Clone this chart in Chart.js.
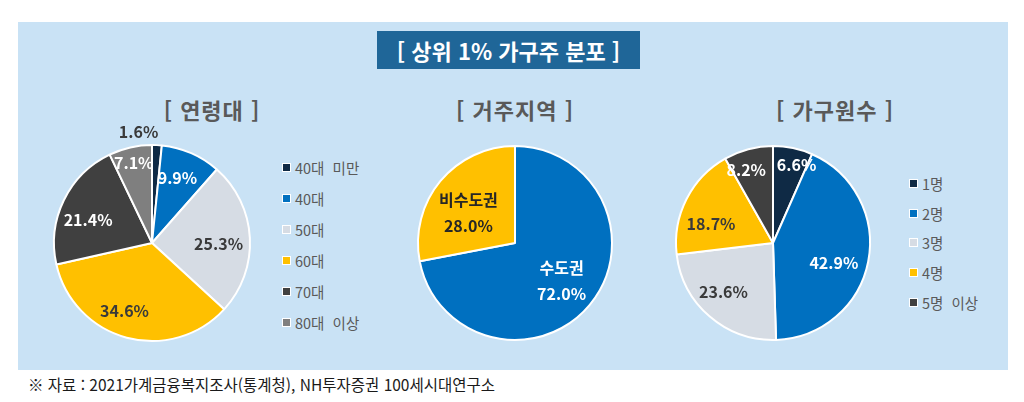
<!DOCTYPE html>
<html lang="ko">
<head>
<meta charset="utf-8">
<title>상위 1% 가구주 분포</title>
<script src="https://cdn.jsdelivr.net/npm/chart.js@4.4.1/dist/chart.umd.min.js"></script>
<style>
  body { margin: 0; width: 1024px; height: 402px; background: #fff; overflow: hidden;
         font-family: "Noto Sans CJK KR", "Noto Sans", sans-serif; position: relative; }
  .panel { position: absolute; left: 18px; top: 22px; width: 990px; height: 348px; background: #C9E2F5; }
  .title { position: absolute; left: 377px; top: 31px; width: 263px; height: 38px; background: #1F6698;
           color: #fff; font-weight: bold; font-size: 22px; line-height: 38px; text-align: center; }
  .sub { position: absolute; top: 94px; width: 220px; margin-left: -110px; text-align: center;
         color: #595959; font-weight: bold; font-size: 22px; line-height: 30px; letter-spacing: 1px; }
  .box { position: absolute; }
  .legend { position: absolute; font-size: 14.5px; color: #595959; }
  .legend div { position: relative; padding-left: 13px; white-space: pre; }
  .legend span { position: absolute; left: 0; top: 50%; width: 7px; height: 7px; margin-top: -5px;
                 border: 1.5px solid #fff; }
  .note { position: absolute; left: 28px; top: 373px; font-size: 15.5px; color: #1A1A1A; }
</style>
</head>
<body>
<div class="panel"></div>
<div class="title">[ 상위 1% 가구주 분포 ]</div>
<div class="sub" style="left:212px">[ 연령대 ]</div>
<div class="sub" style="left:515px">[ 거주지역 ]</div>
<div class="sub" style="left:835px">[ 가구원수 ]</div>

<div class="box" style="left:32px;top:123px;width:240px;height:240px"><canvas id="ageChart"></canvas></div>
<div class="box" style="left:395px;top:123px;width:240px;height:240px"><canvas id="regionChart"></canvas></div>
<div class="box" style="left:653px;top:123px;width:240px;height:240px"><canvas id="sizeChart"></canvas></div>

<div class="legend" id="ageLegend" style="left:282px;top:152px;line-height:31px"></div>
<div class="legend" id="sizeLegend" style="left:909px;top:169px;line-height:29.7px"></div>

<div class="note">※ 자료 : 2021가계금융복지조사(통계청), NH투자증권 100세시대연구소</div>

<script>
// 연령대
const ageLabels = ['40대  미만', '40대', '50대', '60대', '70대', '80대  이상'];
const ageValues = [1.6, 9.9, 25.3, 34.6, 21.4, 7.1];
const ageColors = ['#0F2A45', '#0070C0', '#D6DCE4', '#FFC000', '#404040', '#7F7F7F'];

// 거주지역
const regionLabels = ['수도권', '비수도권'];
const regionValues = [72.0, 28.0];
const regionColors = ['#0070C0', '#FFC000'];

// 가구원수
const sizeLabels = ['1명', '2명', '3명', '4명', '5명  이상'];
const sizeValues = [6.6, 42.9, 23.6, 18.7, 8.2];
const sizeColors = ['#0F2A45', '#0070C0', '#D6DCE4', '#FFC000', '#404040'];

const DARK = '#3A3A3A';
const WHITE = '#FFFFFF';

// 조각 안에 퍼센트 라벨 그리기
const sliceLabels = {
    id: 'sliceLabels',
    afterDatasetsDraw(chart, args, opts) {
        const ctx = chart.ctx;
        const ds = chart.data.datasets[0];
        ctx.save();
        ctx.font = 'bold 16px "Noto Sans CJK KR", "Noto Sans", sans-serif';
        ctx.textAlign = 'center';
        ctx.textBaseline = 'middle';
        chart.getDatasetMeta(0).data.forEach(function(arc, i) {
            const mid = (arc.startAngle + arc.endAngle) / 2;
            const r = arc.outerRadius * opts.radius[i];
            const s = opts.shift[i] || [0, 0];
            const x = arc.x + Math.cos(mid) * r + s[0];
            const y = arc.y + Math.sin(mid) * r + s[1];
            const text = ds.data[i].toFixed(1) + '%';
            ctx.fillStyle = opts.colors[i];
            if (opts.showName) {
                ctx.fillText(chart.data.labels[i], x, y - 13);
                ctx.fillText(text, x, y + 13);
            } else {
                ctx.fillText(text, x, y);
            }
        });
        ctx.restore();
    }
};

function makePie(id, labels, values, colors, pad, labelOpts) {
    return new Chart(document.getElementById(id), {
        type: 'pie',
        data: {
            labels: labels,
            datasets: [{
                data: values,
                backgroundColor: colors,
                borderColor: '#FFFFFF',
                borderWidth: 2
            }]
        },
        options: {
            responsive: true,
            maintainAspectRatio: false,
            animation: false,
            layout: { padding: pad },
            plugins: {
                legend: { display: false },
                tooltip: { enabled: false },
                sliceLabels: labelOpts
            }
        },
        plugins: [sliceLabels]
    });
}

function makeLegend(id, labels, colors) {
    const el = document.getElementById(id);
    labels.forEach(function(l, i) {
        const row = document.createElement('div');
        const sw = document.createElement('span');
        sw.style.background = colors[i];
        row.appendChild(sw);
        row.appendChild(document.createTextNode(l));
        el.appendChild(row);
    });
}

document.addEventListener('DOMContentLoaded', function() {
    makePie('ageChart', ageLabels, ageValues, ageColors, 21, {
        radius: [1.13, 0.7, 0.67, 0.73, 0.69, 0.84],
        shift: [[-19, 0], [-2, -2], [1, 4], [-9, -1], [-3, 6], [0, 0]],
        colors: [DARK, WHITE, DARK, DARK, WHITE, WHITE]
    });
    makePie('regionChart', regionLabels, regionValues, regionColors, 22, {
        radius: [0.61, 0.57],
        shift: [[1, 0], [-4, 5]],
        colors: [WHITE, '#262626'],
        showName: true
    });
    makePie('sizeChart', sizeLabels, sizeValues, sizeColors, 22, {
        radius: [0.83, 0.66, 0.72, 0.67, 0.8],
        shift: [[7, 1], [-2, 8], [-4, -4], [-4, 10], [-7, 2]],
        colors: [WHITE, WHITE, DARK, DARK, WHITE]
    });
    makeLegend('ageLegend', ageLabels, ageColors);
    makeLegend('sizeLegend', sizeLabels, sizeColors);
});
</script>
</body>
</html>
